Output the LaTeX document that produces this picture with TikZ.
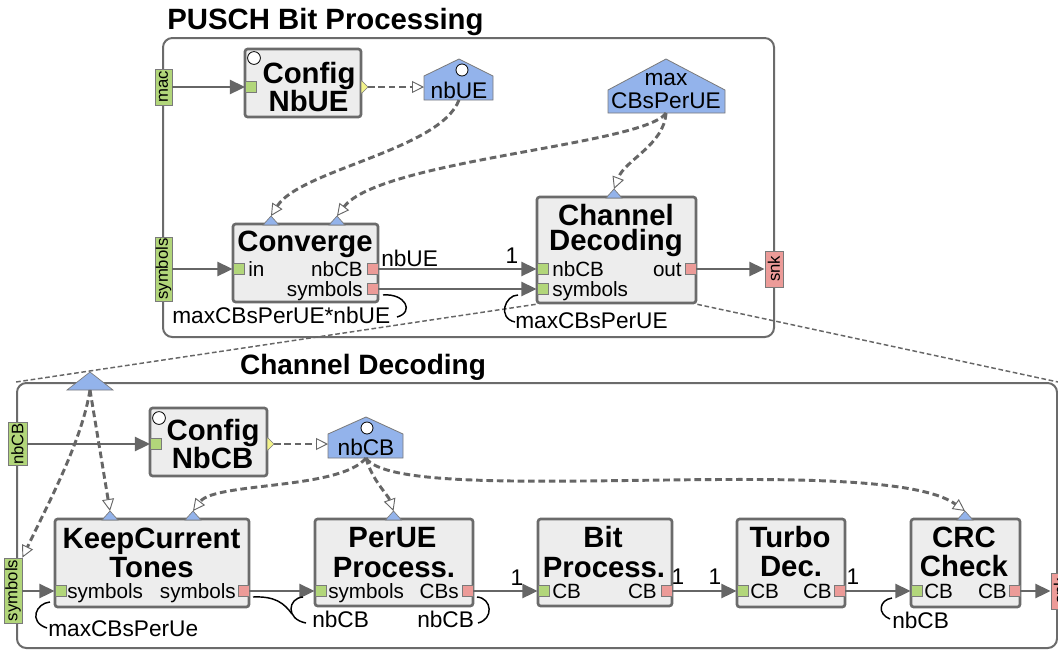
\documentclass[tikz,border=0pt]{standalone}
\usepackage{fontspec}
\setmainfont{Liberation Sans}
\usetikzlibrary{arrows.meta,fit}
\definecolor{lc}{HTML}{666666}
\definecolor{bc}{HTML}{6B6B6B}
\definecolor{boxfill}{HTML}{EDEDED}
\definecolor{gfill}{HTML}{B2D67A}
\definecolor{rfill}{HTML}{EC9B98}
\definecolor{bfill}{HTML}{93B3EB}
\definecolor{yfill}{HTML}{F3F38A}
\definecolor{pb}{HTML}{7A7A7A}
\tikzset{
 frame/.style={draw=bc, line width=1.5pt, rounded corners=7pt, inner sep=0pt},
 actor/.style={draw=bc, fill=boxfill, line width=2pt, rounded corners=2pt, inner sep=0pt},
 gport/.style={draw=pb, fill=gfill, line width=0.6pt, minimum size=8.25pt, inner sep=0pt},
 rport/.style={gport, fill=rfill},
 giface/.style={draw=pb, fill=gfill, line width=0.6pt, inner sep=0pt, font=\fontsize{12.5}{13}\selectfont},
 riface/.style={giface, fill=rfill},
 param/.style={draw=pb, fill=bfill, line width=0.6pt},
 ptri/.style={draw=pb, fill=bfill, line width=0.5pt},
 otri/.style={draw=pb, fill=yfill, line width=0.5pt},
 ring/.style={draw=black, fill=white, line width=0.6pt},
 edge/.style={draw=lc, line width=2.2pt, -{Triangle[length=11.5pt,width=10.5pt]}},
 dep/.style={draw=lc, line width=2.2pt, dash pattern=on 5pt off 2.8pt, -{Triangle[length=9pt,width=9pt,fill=white,line width=0.7pt]}},
 zoomline/.style={draw=lc, line width=1.1pt, dash pattern=on 3.5pt off 2pt},
 rate/.style={draw=black, line width=1.1pt},
 ttl/.style={font=\fontsize{22}{24}\selectfont\bfseries, inner sep=0pt, anchor=base},
 btl/.style={font=\fontsize{22}{23}\selectfont\bfseries, inner sep=0pt, anchor=base},
 plbl/.style={font=\fontsize{15.5}{17}\selectfont, inner sep=0pt},
 elbl/.style={font=\fontsize{17}{19}\selectfont, inner sep=0pt},
}
\begin{document}
\begin{tikzpicture}[x=0.75pt,y=-0.75pt]
\useasboundingbox (0,0) rectangle (1058,651);
\fill[white] (0,0) rectangle (1058,651);

% ---------- frames ----------
\node[frame, fit={(163,38)(774,337)}] (upframe) {};
\node[ttl] (upT) at (325.5,29) {PUSCH Bit Processing};
\node[frame, fit={(17,383)(1057,648)}] (lowframe) {};
\node[ttl, font=\fontsize{21}{23}\selectfont\bfseries] (lowT) at (363,374) {Channel Decoding};

% ---------- upper actors ----------
\node[actor, fit={(245,49)(361,117)}] (cfgNbUE) {};
\node[actor, fit={(233,224)(378,302)}] (cv) {};
\node[actor, fit={(537,197)(696,303)}] (cd) {};

% zoom lines
\draw[zoomline] (cd.south west) -- (lowframe.north west);
\draw[zoomline] (cd.south east) -- (lowframe.north east);

% ---------- lower actors ----------
\node[actor, fit={(150,408)(267,476)}] (cfgNbCB) {};
\node[actor, fit={(55,519)(249,607)}] (kc) {};
\node[actor, fit={(315,519)(473,606)}] (pu) {};
\node[actor, fit={(538,519)(672,606)}] (bp) {};
\node[actor, fit={(737,519)(845,607)}] (td) {};
\node[actor, fit={(911,519)(1020,607)}] (crc) {};

% ---------- interfaces ----------
\node[giface, minimum width=12.75pt, minimum height=27pt] (mac) at (163.5,87) {\rotatebox{90}{mac}};
\node[giface, minimum width=12.75pt, minimum height=48pt] (symUp) at (163.5,269) {\rotatebox{90}{symbols}};
\node[riface, minimum width=13.5pt, minimum height=27pt] (snkUp) at (774,269) {\rotatebox{90}{snk}};
\node[giface, minimum width=14.25pt, minimum height=32.25pt] (nbcbIf) at (17.5,444) {\rotatebox{90}{nbCB}};
\node[giface, minimum width=13.5pt, minimum height=48.75pt] (symLow) at (13,590.5) {\rotatebox{90}{symbols}};
\node[riface, minimum width=13.5pt, minimum height=27pt] (snkLow) at (1060,591) {\rotatebox{90}{snk}};

% ---------- parameters ----------
\draw[param] (424,100) -- (424,76) -- (459,59) -- (493,76) -- (493,100) -- cycle;
\draw[ring] (462,70) circle (4.5pt);
\node[elbl, anchor=base] (nbUE) at (459,98) {nbUE};
\coordinate (nbUEb) at (459,100);
\coordinate (nbUEl) at (424,87);

\draw[param] (608,113) -- (608,90) -- (666,59) -- (725,90) -- (725,113) -- cycle;
\node[elbl, anchor=base] (maxA) at (666,85) {max};
\node[elbl, anchor=base] (maxB) at (666,108) {CBsPerUE};
\coordinate (maxb) at (666,113);

\draw[param] (328,458) -- (328,434) -- (366,417) -- (403,434) -- (403,458) -- cycle;
\draw[ring] (367,428) circle (4.5pt);
\node[elbl, anchor=base] (nbCB) at (366,455) {nbCB};
\coordinate (nbCBb) at (366,458);
\coordinate (nbCBl) at (328,444);

\draw[ptri] (67,390) -- (90,372) -- (113,390) -- cycle;
\coordinate (ptop) at (90,390);

% ---------- blue parameter ports on actors ----------
\draw[ptri] (263,225) -- (271,216) -- (279,225) -- cycle; \coordinate (cvT1) at (271,216);
\draw[ptri] (329,225) -- (337,216) -- (345,225) -- cycle; \coordinate (cvT2) at (337,216);
\draw[ptri] (606,198) -- (614,189) -- (622,198) -- cycle; \coordinate (cdT) at (614,189);
\draw[ptri] (102,520) -- (110,511) -- (118,520) -- cycle; \coordinate (kcT1) at (110,511);
\draw[ptri] (185,520) -- (193,511) -- (201,520) -- cycle; \coordinate (kcT2) at (193,511);
\draw[ptri] (385.5,520) -- (393.5,511) -- (401.5,520) -- cycle; \coordinate (puT) at (393.5,511);
\draw[ptri] (957,520) -- (965,511) -- (973,520) -- cycle; \coordinate (crcT) at (965,511);

% ---------- config rings and outputs ----------
\draw[ring] (254,58) circle (4.8pt);
\draw[ring] (159,418) circle (4.8pt);
\draw[otri] (361,80) -- (368,87) -- (361,94) -- cycle; \coordinate (cfgNbUEout) at (368,87);
\draw[otri] (267,437) -- (274,444) -- (267,451) -- cycle; \coordinate (cfgNbCBout) at (274,444);

% ---------- data ports ----------
\node[gport] (cfgNbUEin) at (251,87) {};
\node[gport] (cvIn) at (238.5,269) {};
\node[rport] (cvNb) at (372.5,269) {};
\node[rport] (cvSym) at (372.5,289) {};
\node[gport] (cdNb) at (542.5,269) {};
\node[gport] (cdSym) at (542.5,289) {};
\node[rport] (cdOut) at (690.5,269) {};
\node[gport] (cfgNbCBin) at (156,444) {};
\node[gport] (kcIn) at (60.5,591) {};
\node[rport] (kcOut) at (243.5,591) {};
\node[gport] (puIn) at (320.5,591) {};
\node[rport] (puOut) at (467.5,591) {};
\node[gport] (bpIn) at (543.5,591) {};
\node[rport] (bpOut) at (666.5,591) {};
\node[gport] (tdIn) at (742.5,591) {};
\node[rport] (tdOut) at (839.5,591) {};
\node[gport] (crcIn) at (916.5,591) {};
\node[rport] (crcOut) at (1014.5,591) {};

% ---------- data edges ----------
\draw[edge] (mac) -- (cfgNbUEin.west);
\draw[edge] (symUp) -- (cvIn.west);
\draw[edge] (cvNb.east) -- (cdNb.west);
\draw[edge] (cvSym.east) -- (cdSym.west);
\draw[edge] (cdOut.east) -- (snkUp.west);
\draw[edge] (nbcbIf) -- (cfgNbCBin.west);
\draw[edge] (symLow.east |- kcIn) -- (kcIn.west);
\draw[edge] (kcOut.east) -- (puIn.west);
\draw[edge] (puOut.east) -- (bpIn.west);
\draw[edge] (bpOut.east) -- (tdIn.west);
\draw[edge] (tdOut.east) -- (crcIn.west);
\draw[edge] (crcOut.east) -- (snkLow.west);

% ---------- dependencies ----------
\draw[dep] (cfgNbUEout) -- (nbUEl);
\draw[dep] (nbUEb) .. controls (440,150) and (300,170) .. (cvT1);
\draw[dep] (maxb) .. controls (645,145) and (380,160) .. (cvT2);
\draw[dep] (maxb) .. controls (664,145) and (625,160) .. (cdT);
\draw[dep] (cfgNbCBout) -- (nbCBl);
\draw[dep] (ptop) -- (kcT1);
\draw[dep] (ptop) .. controls (82,440) and (50,500) .. (symLow.north east);
\draw[dep] (nbCBb) .. controls (340,490) and (215,482) .. (kcT2);
\draw[dep] (nbCBb) .. controls (372,480) and (388,495) .. (puT);
\draw[dep] (nbCBb) .. controls (400,510) and (880,450) .. (crcT);

% ---------- rate arcs ----------
\draw[rate] (383,295) .. controls (405,293) and (415,312) .. (397,317);
\draw[rate] (518,295) .. controls (505,295) and (497,318) .. (515,322);
\draw[rate] (50,602) .. controls (36,603) and (28,622) .. (47,628);
\draw[rate] (253,597) .. controls (275,596) and (284,603) .. (292,614);
\draw[rate] (303,597) .. controls (288,598) and (285,619) .. (306,623);
\draw[rate] (477,597) .. controls (492,598) and (494,619) .. (478,623);
\draw[rate] (892,598) .. controls (879,600) and (877,614) .. (890,619);

% ---------- actor titles ----------
\node[btl] (t1a) at (309,83) {Config};
\node[btl] (t1b) at (308.5,111) {NbUE};
\node[btl] (t2) at (305,251) {Converge};
\node[btl] (t3a) at (616,225) {Channel};
\node[btl] (t3b) at (616,250) {Decoding};
\node[btl] (t4a) at (213,440) {Config};
\node[btl] (t4b) at (212.5,468) {NbCB};
\node[btl] (t5a) at (151.5,548) {KeepCurrent};
\node[btl] (t5b) at (151.5,577) {Tones};
\node[btl] (t6a) at (392.5,547) {PerUE};
\node[btl] (t6b) at (394,577) {Process.};
\node[btl] (t7a) at (603,547) {Bit};
\node[btl] (t7b) at (604,577) {Process.};
\node[btl] (t8a) at (790,547) {Turbo};
\node[btl] (t8b) at (791,576) {Dec.};
\node[btl] (t9a) at (964,547) {CRC};
\node[btl] (t9b) at (964,576) {Check};

% ---------- port labels ----------
\node[plbl, anchor=base west] (l1) at (248,276) {in};
\node[plbl, anchor=base east] (l2) at (363,276) {nbCB};
\node[plbl, anchor=base east] (l3) at (363,296) {symbols};
\node[plbl, anchor=base west] (l4) at (552,276) {nbCB};
\node[plbl, anchor=base west] (l5) at (552,296) {symbols};
\node[plbl, anchor=base east] (l6) at (682,276) {out};
\node[plbl, anchor=base west] (l7) at (67,598) {symbols};
\node[plbl, anchor=base east] (l8) at (236,598) {symbols};
\node[plbl, anchor=base west] (l9) at (328,598) {symbols};
\node[plbl, anchor=base east] (l10) at (459,598) {CBs};
\node[plbl, anchor=base west] (l11) at (552,598) {CB};
\node[plbl, anchor=base east] (l12) at (657,598) {CB};
\node[plbl, anchor=base west] (l13) at (750,598) {CB};
\node[plbl, anchor=base east] (l14) at (832,598) {CB};
\node[plbl, anchor=base west] (l15) at (924,598) {CB};
\node[plbl, anchor=base east] (l16) at (1007,598) {CB};

% ---------- edge labels ----------
\node[elbl, anchor=base west] (e1) at (381,266) {nbUE};
\node[elbl, anchor=base] (e2) at (512,263) {1};
\node[elbl, anchor=base west] (e3) at (172,323) {maxCBsPerUE*nbUE};
\node[elbl, anchor=base west] (e4) at (515,328) {maxCBsPerUE};
\node[elbl, anchor=base west] (e5) at (48,636) {maxCBsPerUe};
\node[elbl, anchor=base west] (e6) at (312,627) {nbCB};
\node[elbl, anchor=base west] (e7) at (417,627) {nbCB};
\node[elbl, anchor=base west] (e8) at (892,628) {nbCB};
\node[elbl, anchor=base] (e9) at (517,585) {1};
\node[elbl, anchor=base] (e10) at (678,584) {1};
\node[elbl, anchor=base] (e11) at (715,584) {1};
\node[elbl, anchor=base] (e12) at (853,584) {1};
\end{tikzpicture}
\end{document}
